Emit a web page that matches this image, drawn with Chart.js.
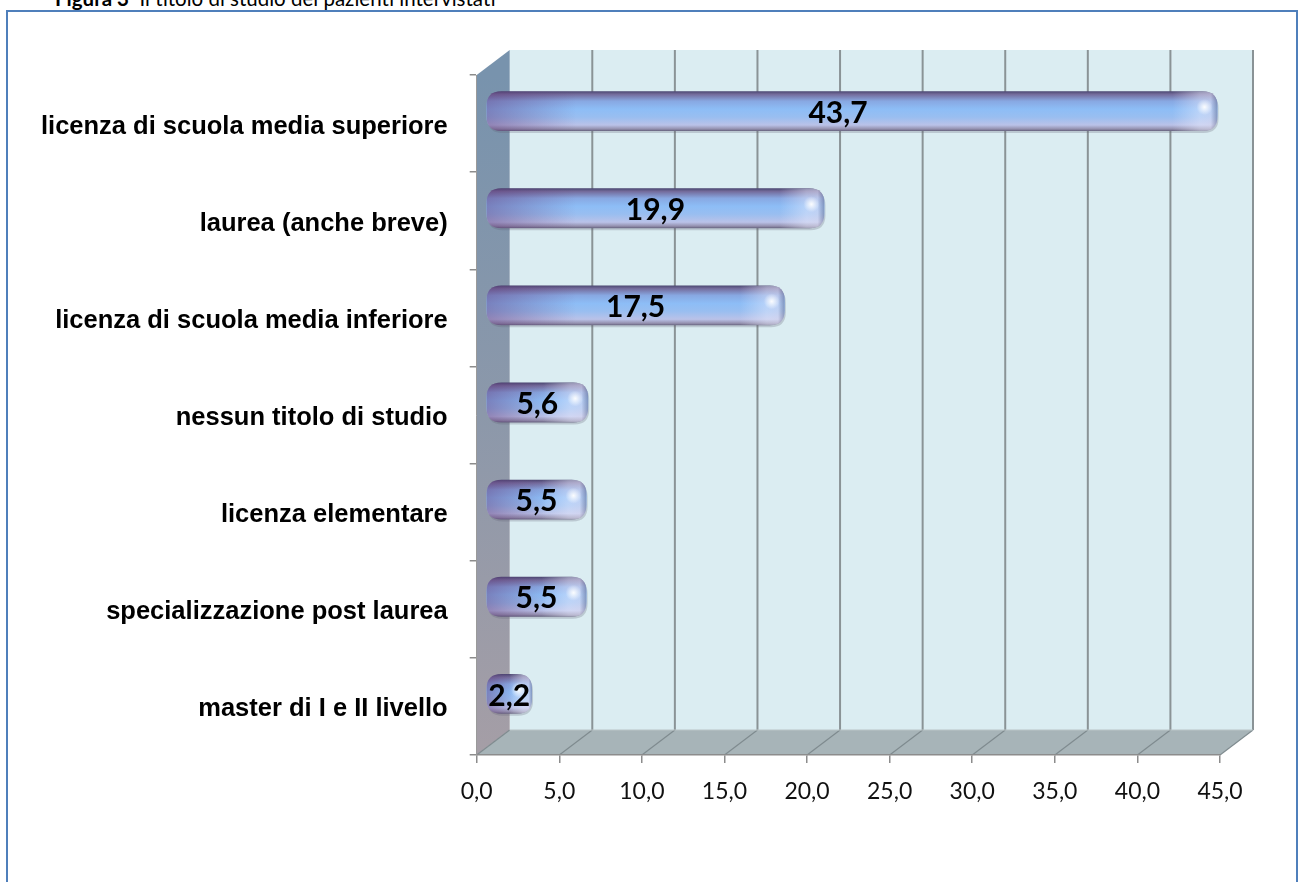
<!DOCTYPE html>
<html lang="it">
<head>
<meta charset="UTF-8">
<title>Titolo di studio</title>
<script src="https://cdn.jsdelivr.net/npm/chart.js@4"></script>
<style>
  body { margin: 0; background: #fff; overflow: hidden; }
  #wrap { position: relative; width: 1302px; height: 882px; }
  #cornice { position: absolute; left: 6px; top: 10px; width: 1292px; height: 900px;
             border: 2px solid #4f7fbb; box-sizing: border-box; }
  #titolo { position: absolute; left: 55px; top: -12px; font: 20.5px/21px Lato, sans-serif; color: #000; white-space: pre; }
  #grafico { position: absolute; left: 0; top: 0; }
</style>
</head>
<body>
<div id="wrap">
  <div id="cornice"></div>
  <div id="titolo"><b>Figura 3</b>  Il titolo di studio dei pazienti intervistati</div>
  <canvas id="grafico" width="1302" height="882"></canvas>
</div>
<script>
// titoli di studio e percentuali
const titoli = [
  'licenza di scuola media superiore',
  'laurea (anche breve)',
  'licenza di scuola media inferiore',
  'nessun titolo di studio',
  'licenza elementare',
  'specializzazione post laurea',
  'master di I e II livello'
];
const percentuali = [43.7, 19.9, 17.5, 5.6, 5.5, 5.5, 2.2];
const asseMin = 0;
const asseMax = 45;
const passo = 5;

// profondità della vista 3D
const prof = { dx: 33, dy: -25 };

function virgola(v) {
  return v.toFixed(1).replace('.', ',');
}

// pareti, pavimento e griglia sul fondo
const pareti = {
  id: 'pareti',
  beforeDraw(chart) {
    const ctx = chart.ctx;
    const xs = chart.scales.x;
    const top = chart.chartArea.top, bot = chart.chartArea.bottom;
    const x0 = xs.getPixelForValue(asseMin), x1 = xs.getPixelForValue(asseMax);
    const { dx, dy } = prof;
    ctx.save();
    // parete di fondo
    ctx.fillStyle = '#dbedf2';
    ctx.fillRect(x0 + dx, top + dy, x1 - x0, bot - top);
    // pavimento
    ctx.fillStyle = '#a7b4b8';
    ctx.beginPath();
    ctx.moveTo(x0, bot); ctx.lineTo(x1, bot);
    ctx.lineTo(x1 + dx, bot + dy); ctx.lineTo(x0 + dx, bot + dy);
    ctx.closePath(); ctx.fill();
    // parete sinistra
    const g = ctx.createLinearGradient(0, top, 0, bot);
    g.addColorStop(0, '#7893ad');
    g.addColorStop(0.5, '#8c98aa');
    g.addColorStop(1, '#a59ea6');
    ctx.fillStyle = g;
    ctx.beginPath();
    ctx.moveTo(x0, top); ctx.lineTo(x0 + dx, top + dy);
    ctx.lineTo(x0 + dx, bot + dy); ctx.lineTo(x0, bot);
    ctx.closePath(); ctx.fill();
    // linee della griglia
    ctx.strokeStyle = '#8a9396';
    ctx.lineWidth = 2;
    for (let v = asseMin + passo; v <= asseMax; v += passo) {
      const x = xs.getPixelForValue(v);
      ctx.beginPath();
      ctx.moveTo(x + dx, top + dy);
      ctx.lineTo(x + dx, bot + dy);
      ctx.stroke();
    }
    ctx.lineWidth = 1.2;
    ctx.strokeStyle = '#7f8b8f';
    for (let v = asseMin; v <= asseMax; v += passo) {
      const x = xs.getPixelForValue(v);
      ctx.beginPath();
      ctx.moveTo(x, bot);
      ctx.lineTo(x + dx, bot + dy);
      ctx.stroke();
    }
    ctx.strokeStyle = '#b9c3c6';
    ctx.beginPath();
    ctx.moveTo(x0 + dx, bot + dy); ctx.lineTo(x1 + dx, bot + dy);
    ctx.stroke();
    ctx.restore();
  }
};

function rettTondo(ctx, x, y, w, h, r) {
  ctx.beginPath();
  ctx.moveTo(x + r, y);
  ctx.lineTo(x + w - r, y);
  ctx.quadraticCurveTo(x + w, y, x + w, y + r);
  ctx.lineTo(x + w, y + h - r);
  ctx.quadraticCurveTo(x + w, y + h, x + w - r, y + h);
  ctx.lineTo(x + r, y + h);
  ctx.quadraticCurveTo(x, y + h, x, y + h - r);
  ctx.lineTo(x, y + r);
  ctx.quadraticCurveTo(x, y, x + r, y);
  ctx.closePath();
}

// barre a cilindro con etichette dei valori
const cilindri = {
  id: 'cilindri',
  afterDatasetsDraw(chart) {
    const ctx = chart.ctx;
    const meta = chart.getDatasetMeta(0);
    const { dx, dy } = prof;
    ctx.save();
    meta.data.forEach((el, i) => {
      const p = el.getProps(['x', 'y', 'base', 'height'], true);
      const h = p.height;
      const yc = p.y + dy / 2;
      const y = yc - h / 2;
      const sx = p.base + 9;
      const ex = p.x + 19;
      const w = ex - sx;
      const r = Math.min(15, w / 2);

      // ombra leggera sotto
      ctx.fillStyle = 'rgba(90,90,110,0.25)';
      rettTondo(ctx, sx + 1, y + 2, w, h, r);
      ctx.fill();

      const gv = ctx.createLinearGradient(0, y, 0, y + h);
      gv.addColorStop(0, '#4a4670');
      gv.addColorStop(0.08, '#746c9c');
      gv.addColorStop(0.25, '#88a8e2');
      gv.addColorStop(0.45, '#8dbdf6');
      gv.addColorStop(0.65, '#99bef0');
      gv.addColorStop(0.85, '#bac2e8');
      gv.addColorStop(0.95, '#9490ae');
      gv.addColorStop(1, '#65627e');
      ctx.fillStyle = gv;
      rettTondo(ctx, sx, y, w, h, r);
      ctx.fill();

      ctx.save();
      rettTondo(ctx, sx, y, w, h, r);
      ctx.clip();
      // tinta viola verso l'inizio della barra
      const gl = ctx.createLinearGradient(sx, 0, sx + Math.min(90, w * 0.6), 0);
      gl.addColorStop(0, 'rgba(95,55,120,0.45)');
      gl.addColorStop(1, 'rgba(95,55,120,0)');
      ctx.fillStyle = gl;
      ctx.fillRect(sx, y, w, h);
      // estremità chiara
      const gr = ctx.createLinearGradient(ex - Math.min(45, w * 0.5), 0, ex, 0);
      gr.addColorStop(0, 'rgba(235,238,255,0)');
      gr.addColorStop(0.6, 'rgba(235,238,255,0.45)');
      gr.addColorStop(0.85, 'rgba(225,225,245,0.55)');
      gr.addColorStop(1, 'rgba(110,110,140,0.5)');
      ctx.fillStyle = gr;
      ctx.fillRect(sx, y, w, h);
      const rg = ctx.createRadialGradient(ex - 13, yc - 4, 0, ex - 13, yc - 4, 8);
      rg.addColorStop(0, 'rgba(255,255,255,0.95)');
      rg.addColorStop(1, 'rgba(255,255,255,0)');
      ctx.fillStyle = rg;
      ctx.fillRect(ex - 25, yc - 16, 25, 24);
      ctx.restore();

      // valore
      ctx.fillStyle = '#000';
      ctx.font = 'bold 30px Lato, sans-serif';
      ctx.textAlign = 'center';
      ctx.textBaseline = 'middle';
      const cx = i === 0 ? (sx + ex) / 2 - 14 : (sx + ex) / 2;
      ctx.fillText(virgola(percentuali[i]), cx, yc + 2);
    });
    ctx.restore();
  }
};

new Chart(document.getElementById('grafico'), {
  type: 'bar',
  data: {
    labels: titoli,
    datasets: [{
      data: percentuali,
      backgroundColor: 'rgba(0,0,0,0)',
      borderWidth: 0,
      categoryPercentage: 1,
      barPercentage: 0.41
    }]
  },
  options: {
    indexAxis: 'y',
    responsive: false,
    animation: false,
    layout: { padding: { left: 0, right: 82, top: 75, bottom: 67 } },
    plugins: { legend: { display: false }, tooltip: { enabled: false } },
    scales: {
      x: {
        min: asseMin,
        max: asseMax,
        afterFit(scale) { scale.height = 60; },
        ticks: {
          stepSize: passo,
          callback: v => virgola(v),
          color: '#111',
          font: { family: 'Lato, sans-serif', size: 23 },
          padding: 15,
          maxRotation: 0
        },
        grid: { drawOnChartArea: false, tickLength: 8, color: '#8c8c8c', lineWidth: 1.5 },
        border: { color: '#8c8c8c', width: 1.5 }
      },
      y: {
        afterFit(scale) { scale.width = 476.7; },
        ticks: {
          color: '#000',
          font: { family: '"Liberation Sans", Arial, sans-serif', size: 25.5, weight: 'bold' },
          padding: 22,
          labelOffset: 3
        },
        grid: { drawOnChartArea: false, tickLength: 7, color: '#8c8c8c', lineWidth: 1.5 },
        border: { color: '#9a9a9a', width: 1 }
      }
    }
  },
  plugins: [pareti, cilindri]
});
</script>
</body>
</html>
